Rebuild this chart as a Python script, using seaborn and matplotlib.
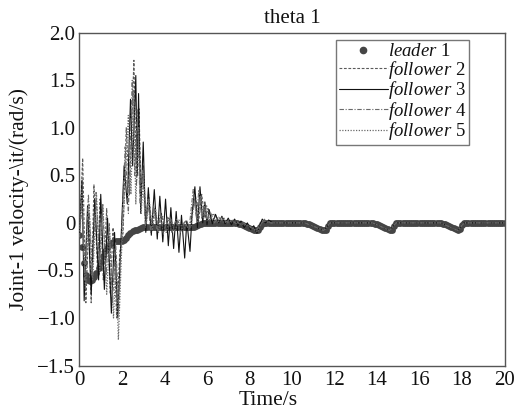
import matplotlib
matplotlib.use("Agg")
import matplotlib.pyplot as plt
from matplotlib.lines import Line2D
import seaborn as sns
import pandas as pd

# ---------------- data ----------------
leader_t = [round(i * 0.1, 1) for i in range(201)]
leader_v = [
    -0.13, -0.25, -0.42, -0.55, -0.60, -0.61, -0.60, -0.57, -0.53, -0.47,   # 0.0-0.9
    -0.41, -0.35, -0.30, -0.26, -0.23, -0.21, -0.20, -0.19, -0.19, -0.19,   # 1.0-1.9
    -0.19, -0.18, -0.16, -0.13, -0.11, -0.09, -0.08, -0.07, -0.06, -0.05,   # 2.0-2.9
    -0.04, -0.04, -0.04, -0.04, -0.04, -0.04, -0.04, -0.04, -0.04, -0.04,   # 3.0-3.9
    -0.04, -0.04, -0.04, -0.04, -0.04, -0.04, -0.04, -0.04, -0.04, -0.04,   # 4.0-4.9
    -0.04, -0.04, -0.04, -0.04, -0.04, -0.03, -0.02, -0.01, 0.00, 0.00,     # 5.0-5.9
    0.00, 0.00, 0.00, 0.00, 0.00, 0.00, 0.00, 0.00, 0.00, 0.00,             # 6.0-6.9
    0.00, 0.00, 0.00, 0.00, 0.00, -0.01, -0.01, -0.02, -0.03, -0.04,        # 7.0-7.9
    -0.05, -0.06, -0.07, -0.08, -0.08, -0.04, -0.01, 0.00, 0.00, 0.00,      # 8.0-8.9
    0.00, 0.00, 0.00, 0.00, 0.00, 0.00, 0.00, 0.00, 0.00, 0.00,             # 9.0-9.9
    0.00, 0.00, 0.00, 0.00, 0.00, 0.00, 0.00, -0.01, -0.01, -0.02,          # 10.0-10.9
    -0.03, -0.04, -0.05, -0.06, -0.07, -0.08, -0.07, -0.03, 0.00, 0.00,     # 11.0-11.9
    0.00, 0.00, 0.00, 0.00, 0.00, 0.00, 0.00, 0.00, 0.00, 0.00,             # 12.0-12.9
    0.00, 0.00, 0.00, 0.00, 0.00, 0.00, 0.00, 0.00, 0.00, -0.01,            # 13.0-13.9
    -0.01, -0.02, -0.03, -0.04, -0.05, -0.06, -0.08, -0.07, -0.03, 0.00,    # 14.0-14.9
    0.00, 0.00, 0.00, 0.00, 0.00, 0.00, 0.00, 0.00, 0.00, 0.00,             # 15.0-15.9
    0.00, 0.00, 0.00, 0.00, 0.00, 0.00, 0.00, 0.00, 0.00, 0.00,             # 16.0-16.9
    0.00, -0.01, -0.01, -0.02, -0.03, -0.04, -0.05, -0.06, -0.08, -0.06,    # 17.0-17.9
    -0.02, 0.00, 0.00, 0.00, 0.00, 0.00, 0.00, 0.00, 0.00, 0.00,            # 18.0-18.9
    0.00, 0.00, 0.00, 0.00, 0.00, 0.00, 0.00, 0.00, 0.00, 0.00,             # 19.0-19.9
    0.00,                                                                   # 20.0
]

f2_t = [0.0, 0.15, 0.3, 0.45, 0.55, 0.68, 0.85, 0.97, 1.12, 1.28, 1.45, 1.58, 1.75, 1.9, 2.05, 2.2,
        2.35, 2.56, 2.68, 2.8, 2.9, 3.0, 3.12, 3.25, 3.4, 3.55, 3.7, 3.85, 4.0, 4.2, 4.4, 4.6, 4.8,
        5.0, 5.2, 5.45, 5.6, 5.75, 5.9, 6.05, 6.2, 6.4, 6.6, 6.8, 7.0, 7.3, 7.6, 7.9, 8.2, 8.4,
        8.55, 8.7, 9.0, 10.6, 11.5, 11.8, 13.8, 14.6, 14.9, 17.0, 17.8, 18.1, 20.0]
f2_v = [-0.1, 0.68, -0.84, 0.1, -0.84, 0.4, -0.5, 0.25, -0.6, 0.15, -0.75, -0.05, -1.0, -0.3, -0.1, 1.0,
        0.3, 1.71, 0.4, 1.2, 0.3, 0.6, 0.0, 0.3, -0.05, 0.15, -0.08, 0.1, -0.06, 0.05, -0.06, 0.03, -0.05,
        0.02, -0.04, 0.3, 0.0, 0.3, 0.05, 0.15, 0.0, 0.08, 0.01, 0.05, 0.0, 0.03, -0.02, -0.03, -0.06, -0.09,
        0.0, 0.03, 0.0, 0.0, -0.08, 0.0, 0.0, -0.08, 0.0, 0.0, -0.08, 0.0, 0.0]

f3_t = [0.0, 0.12, 0.22, 0.38, 0.55, 0.72, 0.9, 1.0, 1.17, 1.32, 1.5, 1.65, 1.8, 1.95, 2.1, 2.25,
        2.4, 2.5, 2.65, 2.72, 2.78, 2.88, 3.0, 3.12, 3.24, 3.38, 3.52, 3.66, 3.78, 3.92, 4.05, 4.18,
        4.3, 4.43, 4.55, 4.68, 4.8, 4.95, 5.05, 5.2, 5.3, 5.43, 5.55, 5.67, 5.8, 5.9, 6.0, 6.1,
        6.25, 6.4, 6.55, 6.7, 6.85, 7.0, 7.15, 7.3, 7.45, 7.6, 7.75, 7.9, 8.05, 8.2, 8.35, 8.5,
        8.6, 8.75, 8.9, 9.1, 10.6, 11.5, 11.8, 13.8, 14.6, 14.9, 17.0, 17.8, 18.1, 20.0]
f3_v = [-0.13, 0.45, -0.82, 0.18, -0.75, 0.25, -0.6, 0.3, -0.7, 0.05, -0.95, -0.1, -1.0, -0.2, 0.6, 0.2,
        1.3, 0.6, 1.55, 0.5, 1.36, 0.1, 0.85, -0.1, 0.37, -0.13, 0.35, -0.17, 0.28, -0.2, 0.25, -0.24,
        0.16, -0.27, 0.12, -0.31, 0.08, -0.37, 0.02, -0.3, 0.1, 0.38, -0.05, 0.38, 0.0, 0.22, -0.02, 0.14,
        -0.01, 0.09, 0.0, 0.07, -0.01, 0.05, -0.02, 0.04, -0.03, 0.02, -0.05, 0.0, -0.07, -0.03, -0.11, -0.02,
        0.04, 0.0, 0.03, 0.0, 0.0, -0.08, 0.0, 0.0, -0.08, 0.0, 0.0, -0.08, 0.0, 0.0]

f4_t = [0.0, 0.1, 0.25, 0.42, 0.6, 0.78, 0.95, 1.08, 1.25, 1.4, 1.55, 1.7, 1.85, 2.0, 2.15, 2.3,
        2.48, 2.6, 2.72, 2.85, 2.98, 3.1, 3.22, 3.35, 3.5, 3.65, 3.8, 3.95, 4.15, 4.35, 4.55, 4.75,
        4.95, 5.15, 5.35, 5.5, 5.62, 5.75, 5.88, 6.0, 6.15, 6.35, 6.55, 6.8, 7.1, 7.4, 7.7, 8.0,
        8.3, 8.5, 8.65, 9.0, 10.6, 11.5, 11.8, 13.8, 14.6, 14.9, 17.0, 17.8, 18.1, 20.0]
f4_v = [-0.15, 0.2, -0.6, 0.3, -0.55, 0.32, -0.45, 0.2, -0.55, 0.0, -0.85, -0.2, -0.9, 0.0, 0.8, 0.1,
        1.5, 0.5, 1.2, 0.2, 0.55, -0.05, 0.25, -0.1, 0.18, -0.1, 0.1, -0.12, 0.06, -0.1, 0.04, -0.1,
        0.02, -0.08, 0.35, 0.05, 0.35, 0.05, 0.2, 0.02, 0.12, 0.0, 0.06, 0.0, 0.03, -0.01, 0.0, -0.04,
        -0.08, -0.03, 0.02, 0.0, 0.0, -0.08, 0.0, 0.0, -0.08, 0.0, 0.0, -0.08, 0.0, 0.0]

f5_t = [0.0, 0.12, 0.28, 0.45, 0.62, 0.8, 0.95, 1.1, 1.28, 1.42, 1.6, 1.72, 1.83, 1.98, 2.1, 2.3,
        2.42, 2.55, 2.65, 2.78, 2.9, 3.02, 3.15, 3.28, 3.42, 3.58, 3.72, 3.9, 4.08, 4.28, 4.48, 4.68,
        4.88, 5.08, 5.25, 5.4, 5.55, 5.7, 5.85, 5.98, 6.12, 6.3, 6.5, 6.7, 6.95, 7.25, 7.55, 7.85,
        8.15, 8.38, 8.52, 8.68, 9.0, 10.6, 11.5, 11.8, 13.8, 14.6, 14.9, 17.0, 17.8, 18.1, 20.0]
f5_v = [-0.12, 0.35, -0.7, 0.2, -0.6, 0.3, -0.5, 0.2, -0.75, -0.1, -1.0, -0.4, -1.23, -0.3, 0.2, 1.13,
        0.3, 1.4, 0.2, 1.0, 0.1, 0.5, 0.0, 0.25, -0.08, 0.15, -0.1, 0.08, -0.1, 0.05, -0.09, 0.03,
        -0.08, 0.0, -0.05, 0.25, 0.0, 0.28, 0.05, 0.18, 0.02, 0.1, 0.0, 0.06, 0.0, 0.03, -0.01, -0.02,
        -0.05, -0.1, -0.02, 0.04, 0.0, 0.0, -0.08, 0.0, 0.0, -0.08, 0.0, 0.0, -0.08, 0.0, 0.0]

x_ticks = [0, 2, 4, 6, 8, 10, 12, 14, 16, 18, 20]
y_ticks = [-1.5, -1.0, -0.5, 0, 0.5, 1.0, 1.5, 2.0]
y_tick_labels = ["\u22121.5", "\u22121.0", "\u22120.5", "0", "0.5", "1.0", "1.5", "2.0"]
labels = [r"$\mathit{leader}$ 1", r"$\mathit{follower}$ 2", r"$\mathit{follower}$ 3",
          r"$\mathit{follower}$ 4", r"$\mathit{follower}$ 5"]

# ---------------- style ----------------
sns.set_style("white")
plt.rcParams["font.family"] = ["Liberation Serif", "DejaVu Serif"]
plt.rcParams["mathtext.fontset"] = "custom"
plt.rcParams["mathtext.rm"] = "Liberation Serif"
plt.rcParams["mathtext.it"] = "Liberation Serif:italic"
plt.rcParams["axes.unicode_minus"] = True

fig = plt.figure(figsize=(5.31, 4.13), dpi=100)
ax = fig.add_axes([0.1497, 0.115, 0.8004, 0.8058])

leader_df = pd.DataFrame({"t": leader_t, "v": leader_v})
sns.scatterplot(data=leader_df, x="t", y="v", ax=ax, s=24, color="#454545",
                linewidth=0, zorder=2, legend=False)

styles = [
    (f2_t, f2_v, "#5a5a5a", (0, (2.5, 1.5)), 0.8),
    (f3_t, f3_v, "#111111", "-", 0.8),
    (f4_t, f4_v, "#6a6a6a", (0, (4, 1.5, 1, 1.5)), 0.8),
    (f5_t, f5_v, "#6a6a6a", (0, (1, 1.2)), 0.9),
]
for t, v, c, ls, lw in styles:
    df = pd.DataFrame({"t": t, "v": v})
    sns.lineplot(data=df, x="t", y="v", ax=ax, color=c, linestyle=ls, linewidth=lw,
                 sort=False, estimator=None, zorder=3, legend=False)

ax.set_xlim(0, 20)
ax.set_ylim(-1.5, 2.0)
ax.set_xticks(x_ticks)
ax.set_xticklabels([str(x) for x in x_ticks])
ax.set_yticks(y_ticks)
ax.set_yticklabels(y_tick_labels)
ax.tick_params(direction="in", length=4, width=0.8, color="#555555",
               labelsize=15, labelcolor="#111111", pad=3)
ax.tick_params(axis="x", pad=4)
for sp in ax.spines.values():
    sp.set_color("#555555")
    sp.set_linewidth(1.0)

ax.set_title("theta 1", fontsize=15, pad=7, color="#111111")
ax.set_ylabel("Joint-1 velocity-\\it/(rad/s)", fontsize=15.5, color="#111111")
ax.yaxis.set_label_coords(-0.118, 0.5)
ax.set_xlabel("Time/s", fontsize=15.5, color="#111111")
ax.xaxis.set_label_coords(0.4435, -0.078)

handles = [
    Line2D([], [], marker="o", linestyle="none", color="#454545", markersize=4.5),
    Line2D([], [], color="#5a5a5a", linestyle=(0, (2.5, 1.5)), linewidth=0.8),
    Line2D([], [], color="#111111", linestyle="-", linewidth=0.8),
    Line2D([], [], color="#6a6a6a", linestyle=(0, (4, 1.5, 1, 1.5)), linewidth=0.8),
    Line2D([], [], color="#6a6a6a", linestyle=(0, (1, 1.2)), linewidth=0.9),
]
leg = ax.legend(handles, labels, loc="upper left", bbox_to_anchor=(0.6035, 0.977),
                borderaxespad=0, fontsize=13.5, frameon=True, fancybox=False,
                handlelength=2.6, handletextpad=0.0, labelspacing=-0.08,
                borderpad=0.15, edgecolor="#555555")
leg.get_frame().set_linewidth(1.0)
for txt in leg.get_texts():
    txt.set_color("#111111")

fig.savefig("out.png", dpi=100, facecolor="white")
